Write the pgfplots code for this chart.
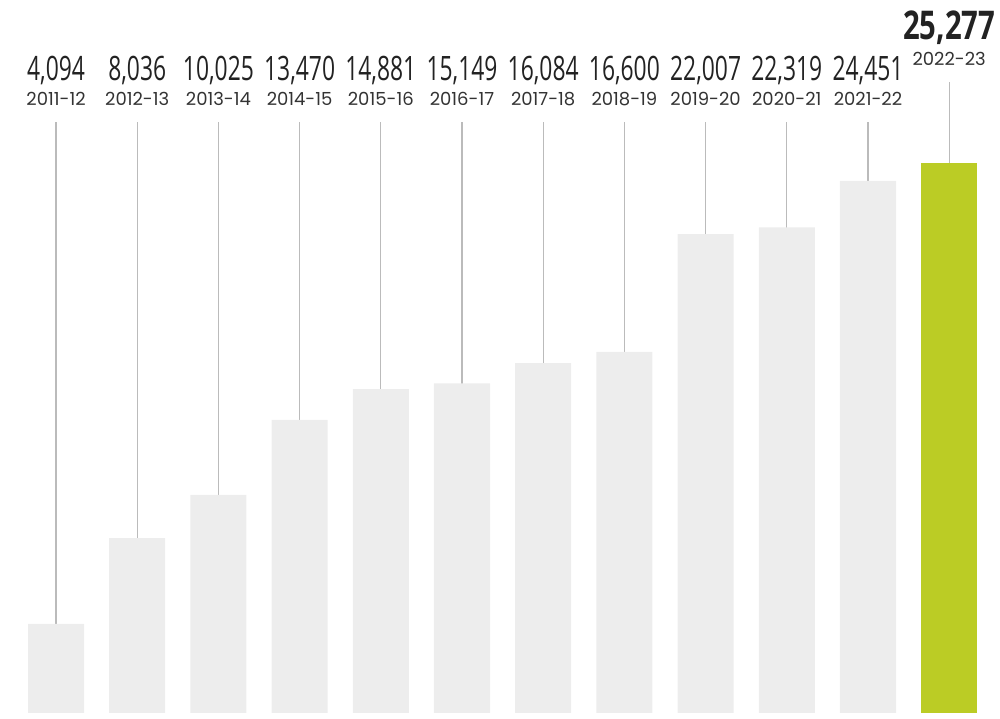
\documentclass[border=0pt]{standalone}
\usepackage{fontspec}
\usepackage{pgfplots}
\pgfplotsset{compat=1.18}
\setmainfont{Open Sans}
\newfontfamily\valfont{Open Sans}[FakeStretch=0.68]
\newfontfamily\bvalfont{Open Sans}[FakeStretch=0.74]
\newfontfamily\yearfont{Poppins}
\definecolor{barg}{HTML}{EDEDED}
\definecolor{limeg}{HTML}{BBCC25}
\definecolor{linec}{HTML}{BBBBBB}
\definecolor{txt}{HTML}{222222}
\definecolor{txtb}{HTML}{333333}
\begin{document}
\begin{tikzpicture}
\begin{axis}[
  scale only axis, width=500pt, height=359.5pt,
  xmin=-0.690, xmax=11.626, ymin=-276, ymax=32767,
  hide axis, clip=false,
]
% connector lines
\addplot[ycomb, draw=linec, line width=0.65pt, mark=none] coordinates {
 (0,27160) (1,27160) (2,27160) (3,27160) (4,27160) (5,27160)
 (6,27160) (7,27160) (8,27160) (9,27160) (10,27160) (11,28998)};
% bars
\addplot[ybar, bar width=0.69, bar shift=0pt, fill=barg, draw=none] coordinates {
 (0,4094) (1,8036) (2,10025) (3,13470) (4,14881) (5,15149)
 (6,16084) (7,16600) (8,22007) (9,22319) (10,24451)};
\addplot[ybar, bar width=0.69, bar shift=0pt, fill=limeg, draw=none] coordinates {(11,25277)};
% value labels
\addplot[draw=none, mark=none, nodes near coords, point meta=explicit symbolic,
  every node near coord/.append style={anchor=base, inner sep=0pt, text=txt,
  font=\valfont\fontsize{16.8}{18}\selectfont}] coordinates {
 (0,29044) [4,094] (1,29044) [8,036] (2,29044) [10,025] (3,29044) [13,470]
 (4,29044) [14,881] (5,29044) [15,149] (6,29044) [16,084] (7,29044) [16,600]
 (8,29044) [22,007] (9,29044) [22,319] (10,29044) [24,451]};
\addplot[draw=none, mark=none, nodes near coords, point meta=explicit symbolic,
  every node near coord/.append style={anchor=base, inner sep=0pt, text=txt,
  font=\bvalfont\bfseries\fontsize{19.8}{21}\selectfont}] coordinates {
 (11,30928) [25,277]};
% year labels
\addplot[draw=none, mark=none, nodes near coords, point meta=explicit symbolic,
  every node near coord/.append style={anchor=base, inner sep=0pt, text=txtb,
  font=\yearfont\fontsize{9.0}{11}\selectfont}] coordinates {
 (0,27895) [2011-12] (1,27895) [2012-13] (2,27895) [2013-14] (3,27895) [2014-15]
 (4,27895) [2015-16] (5,27895) [2016-17] (6,27895) [2017-18] (7,27895) [2018-19]
 (8,27895) [2019-20] (9,27895) [2020-21] (10,27895) [2021-22] (11,29779) [2022-23]};
\end{axis}
\pgfresetboundingbox
\path[use as bounding box] (current axis.south west) rectangle (current axis.north east);
\end{tikzpicture}
\end{document}
